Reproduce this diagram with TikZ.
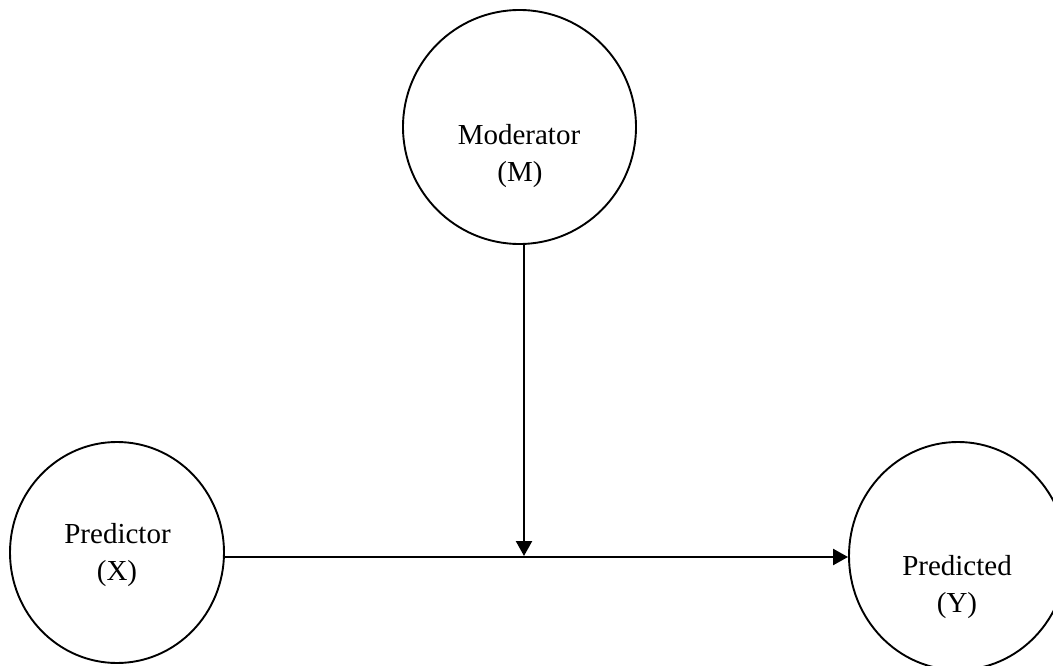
\documentclass[tikz,border=0pt]{standalone}
\usepackage{fontspec}
\setmainfont{Liberation Serif}
\usetikzlibrary{shapes.geometric,arrows.meta}
\tikzset{
  var/.style={draw=black, line width=1.9pt, ellipse, inner sep=0pt, fill=none},
  lbl/.style={anchor=base, inner sep=0pt, font=\fontsize{29}{35}\selectfont},
  link/.style={draw=black, line width=2.3pt},
  arr/.style={link, -{Triangle[length=15pt,width=16pt]}}
}
\begin{document}
\begin{tikzpicture}[x=1pt,y=-1pt]
  \clip (0,0) rectangle (1053,666);
  \fill[white] (0,0) rectangle (1053,666);

  % the three variables
  \node[var, minimum width=233pt, minimum height=234pt] (M) at (519.5,127) {};
  \node[var, minimum width=214pt, minimum height=221pt] (X) at (117,552.5) {};
  \node[var, minimum width=218pt, minimum height=228pt] (Y) at (958,556) {};

  % labels
  \node[lbl] (Mname) at (519,145) {Moderator};
  \node[lbl] (Msym)  at (520,182) {(M)};
  \node[lbl] (Xname) at (117.5,543) {Predictor};
  \node[lbl] (Xsym)  at (117,580) {(X)};
  \node[lbl] (Yname) at (957,575) {Predicted};
  \node[lbl] (Ysym)  at (957,612) {(Y)};

  % junction where the moderator path meets X -> Y
  \coordinate (j) at (524,557);

  % paths
  \draw[arr] (X.east |- j) -- (Y.west |- j);
  \draw[arr, shorten >=1pt] (M.south -| j) -- (j);
\end{tikzpicture}
\end{document}
